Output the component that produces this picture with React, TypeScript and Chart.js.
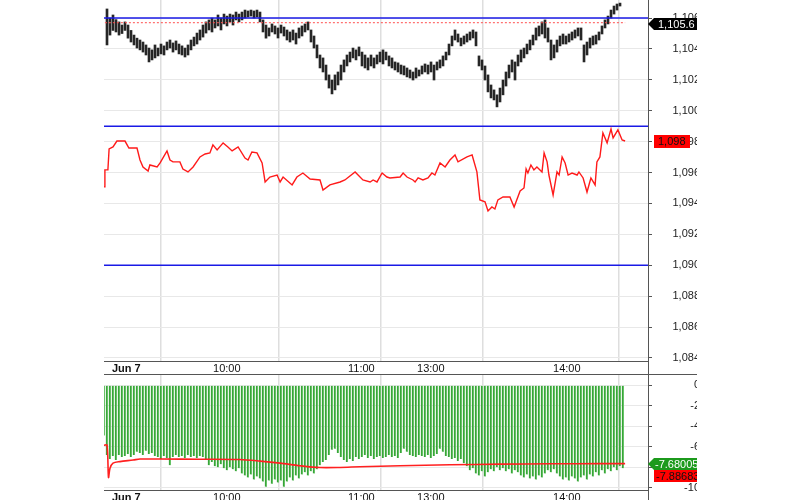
import React, { useEffect, useRef } from "react";
import { Chart, registerables } from "chart.js";

Chart.register(...registerables);

const FONT = '"Liberation Sans", Arial, Helvetica, sans-serif';

// ---- x axis (bar index units) ----
const xMin = 0;
const xMax = 181.33;
const tickIdx = [2, 35.67, 80.67, 103.67, 149];
const tickLabels = ["Jun 7", "10:00", "11:00", "13:00", "14:00"];

// ---- price panel ----
const priceMin = 1083.8;
const priceMax = 1107.17;
const priceTicks = [1084, 1086, 1088, 1090, 1092, 1094, 1096, 1098, 1100, 1102, 1104, 1106];
const levelLines = [1106, 1099, 1090];
const refLevel = 1105.7;
const refStart = 0.3;
const refEnd = 173.7;
const lastPrice = 1105.6;
const lastPriceLabel = "1,105.6";
const lastRed = 1098;
const lastRedLabel = "1,098";

const candleHigh = [
  1106.59, 1106.0, 1106.2, 1105.9, 1105.75, 1105.55, 1105.75, 1105.55,
  1105.2, 1104.9, 1104.7, 1104.58, 1104.45, 1104.26, 1104.06, 1103.94, 1104.26, 1104.06,
  1104.32, 1104.2, 1104.45, 1104.58, 1104.39, 1104.52, 1104.32, 1104.2, 1104.06, 1104.26,
  1104.58, 1104.77, 1105.03, 1105.23, 1105.55, 1105.75, 1105.88, 1106.0, 1105.88, 1106.2,
  1106.0, 1106.26, 1106.13, 1106.26, 1106.2, 1106.39, 1106.26, 1106.39, 1106.52, 1106.46,
  1106.52, 1106.46, 1106.52, 1106.39, 1105.88, 1105.55, 1105.36, 1105.62, 1105.49, 1105.36,
  1105.55, 1105.42, 1105.23, 1105.1, 1105.23, 1105.03, 1105.36, 1105.49, 1105.62, 1105.75,
  1105.23, 1104.84, 1104.26, 1103.61, 1103.42, 1102.96, 1102.32, 1101.99, 1102.32, 1102.51,
  1102.96, 1103.29, 1103.61, 1103.8, 1104.06, 1103.94, 1104.13, 1103.8, 1103.61, 1103.42,
  1103.61, 1103.42, 1103.61, 1103.8, 1103.94, 1103.8, 1103.55, 1103.42, 1103.16, 1103.1,
  1102.96, 1102.9, 1102.77, 1102.64, 1102.51, 1102.77, 1102.64, 1102.9, 1103.03, 1102.96,
  1103.16, 1102.96, 1103.16, 1103.29, 1103.55, 1103.8, 1104.32, 1104.84, 1105.23, 1104.97,
  1104.71, 1104.84, 1104.97, 1105.1, 1105.23, 1105.1, 1103.55, 1103.29, 1102.9, 1102.32,
  1101.67, 1101.35, 1101.03, 1101.47, 1101.99, 1102.51, 1102.96, 1103.29, 1103.16, 1103.61,
  1103.94, 1104.06, 1104.32, 1104.58, 1104.9, 1105.36, 1105.49, 1105.75, 1105.88, 1105.36,
  1104.58, 1104.26, 1104.58, 1104.84, 1104.97, 1104.84, 1104.97, 1105.1, 1105.23, 1105.36,
  1105.36, 1104.26, 1104.45, 1104.71, 1104.84, 1104.9, 1105.1, 1105.49, 1105.88, 1106.13,
  1106.52, 1106.78, 1106.91, 1106.97,
];

const candleLow = [
  1104.26, 1104.9, 1105.2, 1105.1, 1104.9, 1105.0, 1105.2, 1104.7,
  1104.45, 1104.26, 1104.06, 1103.94, 1103.8, 1103.61, 1103.16, 1103.29, 1103.42, 1103.55,
  1103.68, 1103.61, 1103.94, 1104.06, 1103.8, 1103.94, 1103.68, 1103.61, 1103.48, 1103.61,
  1103.94, 1104.2, 1104.32, 1104.58, 1104.77, 1105.03, 1105.23, 1105.1, 1105.36, 1105.49,
  1105.23, 1105.62, 1105.49, 1105.75, 1105.55, 1105.88, 1105.75, 1105.88, 1106.0, 1106.07,
  1106.13, 1106.0, 1106.07, 1105.75, 1105.1, 1104.7, 1104.84, 1105.1, 1104.97, 1104.71,
  1105.03, 1104.84, 1104.58, 1104.45, 1104.58, 1104.32, 1104.71, 1104.84, 1105.1, 1105.23,
  1104.45, 1104.06, 1103.42, 1102.77, 1102.51, 1101.99, 1101.47, 1101.09, 1101.35, 1101.67,
  1101.99, 1102.51, 1102.9, 1103.16, 1103.42, 1103.29, 1103.55, 1102.9, 1102.77, 1102.64,
  1102.9, 1102.77, 1103.03, 1103.16, 1103.03, 1103.29, 1102.9, 1102.77, 1102.64, 1102.51,
  1102.38, 1102.32, 1102.19, 1102.12, 1101.99, 1102.12, 1102.25, 1102.38, 1102.51, 1102.38,
  1102.51, 1101.99, 1102.64, 1102.77, 1102.9, 1103.29, 1103.61, 1104.2, 1104.58, 1104.45,
  1104.2, 1104.32, 1104.45, 1104.58, 1104.71, 1104.2, 1102.9, 1102.64, 1101.99, 1101.22,
  1100.83, 1100.7, 1100.25, 1100.57, 1101.03, 1101.6, 1102.12, 1102.51, 1101.99, 1102.9,
  1103.16, 1103.42, 1103.68, 1103.94, 1104.26, 1104.58, 1104.84, 1104.97, 1104.71, 1104.45,
  1103.29, 1103.42, 1103.8, 1104.2, 1104.32, 1104.32, 1104.45, 1104.58, 1104.71, 1104.84,
  1104.58, 1103.16, 1103.61, 1104.06, 1104.26, 1104.32, 1104.58, 1104.97, 1105.36, 1105.62,
  1106.0, 1106.26, 1106.52, 1106.78,
];

const redIdx = [
  0, 0.3, 1.3, 1.7, 3, 4.3, 7, 8.3, 11, 12, 13, 14.7, 15.3, 17.7, 18.7, 21, 22, 23, 25.3, 26.3,
  28, 29.7, 32, 33.7, 35.3, 36.3, 37.7, 39.7, 41.3, 42.7, 44.7, 47, 48, 49.3, 51, 52.7, 53.7, 55.3,
  57.7, 58.7, 59.7, 62.7, 64.3, 66.3, 68.7, 72, 73, 75.3, 78.7, 80.3, 83.7, 86.3, 88.7, 89.7, 91,
  92.7, 94.3, 95.3, 98.7, 99.7, 101, 103, 103.7, 104.7, 106.3, 108, 109.3, 110.3, 112, 113.7, 115.3,
  117, 118, 121, 122.7, 124.3, 125.3, 127, 128, 129.3, 130.3, 131.3, 133, 135.3, 136.7, 138.7, 140,
  140.7, 141.3, 142.3, 143.3, 144.3, 146, 146.7, 147.7, 148.3, 149.7, 151, 151.7, 152.7, 153.7,
  154.7, 156, 157.7, 158.3, 159.7, 161, 162.3, 163.7, 164.3, 165.3, 166.3, 167.7, 169, 169.7,
  171.3, 172.7, 173.7,
];
const redVal = [
  1095.07, 1096.17, 1096.17, 1097.53, 1097.66, 1098.04, 1098.04, 1097.59, 1097.59, 1096.81,
  1096.36, 1096.1, 1096.49, 1096.36, 1096.62, 1097.4, 1096.81, 1096.69, 1096.69, 1096.23,
  1096.04, 1096.36, 1097.01, 1097.2, 1097.27, 1097.79, 1097.46, 1097.92, 1097.66, 1097.4,
  1097.66, 1096.94, 1096.81, 1097.33, 1097.27, 1096.62, 1095.39, 1095.71, 1095.84, 1095.39,
  1095.71, 1095.2, 1095.71, 1095.97, 1095.58, 1095.52, 1094.87, 1095.2, 1095.39, 1095.52,
  1096.04, 1095.52, 1095.39, 1095.52, 1095.39, 1095.97, 1095.71, 1095.65, 1095.71, 1095.97,
  1095.71, 1095.52, 1095.39, 1095.65, 1095.52, 1095.65, 1095.97, 1095.84, 1096.62, 1096.36,
  1096.81, 1097.14, 1096.69, 1097.01, 1097.14, 1096.04, 1094.23, 1094.1, 1093.51, 1093.77,
  1093.64, 1094.23, 1094.42, 1094.42, 1093.77, 1094.81, 1095.0, 1096.23, 1095.97, 1096.49,
  1096.17, 1096.36, 1096.04, 1097.27, 1096.69, 1095.84, 1094.55, 1096.04, 1095.84, 1097.01,
  1096.62, 1095.84, 1095.97, 1095.84, 1096.04, 1095.65, 1094.74, 1095.65, 1095.2, 1096.69,
  1097.01, 1098.56, 1097.92, 1098.82, 1098.24, 1098.76, 1098.11, 1098.04,
];

// ---- oscillator panel ----
const oscMin = -10.22;
const oscMax = 1.0;
const oscTicks = [0, -2, -4, -6, -8, -10];
const greenVals = [
  -4.9, -6.8, -7.2, -6.9, -7.3, -6.8, -7.0, -6.9, -6.7, -7.0,
  -6.8, -6.5, -6.6, -6.8, -6.4, -6.7, -6.6, -6.9, -7.0, -7.2,
  -6.9, -7.1, -7.8, -7.0, -6.8, -7.0, -6.9, -7.1, -6.8, -7.0,
  -6.9, -7.1, -6.9, -7.0, -7.2, -7.8, -7.5, -7.9, -8.0, -7.7,
  -8.1, -8.3, -8.0, -8.2, -8.4, -8.1, -8.6, -8.8, -9.0, -8.7,
  -9.2, -8.9, -9.1, -9.4, -9.9, -9.3, -9.6, -9.2, -9.5, -9.3,
  -9.9, -9.4, -9.0, -9.3, -8.8, -9.1, -8.7, -8.5, -8.8, -8.4,
  -8.6, -8.2, -7.8, -7.5, -7.3, -6.8, -6.3, -6.2, -6.6, -7.0,
  -7.3, -7.5, -7.2, -7.4, -7.0, -7.2, -7.0, -6.8, -7.1, -6.9,
  -7.2, -7.0, -6.9, -7.1, -7.0, -6.8, -7.0, -6.9, -7.1, -6.6,
  -6.2, -6.5, -6.8, -6.9, -7.0, -6.8, -6.9, -7.0, -6.8, -7.1,
  -6.9, -6.7, -6.2, -6.5, -6.9, -7.0, -7.2, -7.1, -7.4, -7.2,
  -7.6, -7.9, -8.3, -8.1, -8.6, -8.8, -8.4, -8.9, -8.5, -8.2,
  -8.4, -8.0, -8.3, -8.1, -8.4, -8.2, -8.6, -8.3, -8.5, -8.8,
  -9.0, -8.7, -9.1, -8.9, -9.2, -8.8, -9.0, -8.6, -8.3, -8.5,
  -8.2, -8.6, -8.9, -9.2, -9.0, -9.3, -8.9, -9.1, -9.4, -9.0,
  -8.8, -9.2, -8.7, -8.9, -8.5, -8.8, -8.3, -8.6, -8.2, -8.4,
  -8.0, -8.3, -7.9, -8.1,
];
const oscRedIdx = [0, 1, 1.5, 2, 3, 5.3, 9.7, 12, 18.7, 32, 45.3, 52, 58.7, 65.3, 72, 78.7, 85.3, 98.7, 115.3, 132, 148.7, 165.3, 173.7];
const oscRedVal = [-5.85, -5.85, -9.0, -8.1, -7.6, -7.45, -7.3, -7.2, -7.2, -7.22, -7.25, -7.4, -7.6, -7.85, -8.03, -8.02, -7.95, -7.85, -7.76, -7.7, -7.66, -7.65, -7.65];
const oscGreenLast = -7.68005;
const oscGreenLabel = "-7.68005";
const oscRedLabel = "-7.88683";

const PLOT_LEFT = 104;
const W = 700;
const AXIS_W = W - 648;

function fmtThousands(v: number): string {
  const s = String(Math.round(v));
  return s.replace(/\B(?=(\d{3})+(?!\d))/g, ",");
}

function xScale(height: number) {
  return {
    type: "linear",
    min: xMin,
    max: xMax,
    offset: false,
    afterBuildTicks: (s: any) => {
      s.ticks = tickIdx.map((v) => ({ value: v }));
    },
    afterFit: (s: any) => {
      s.height = height;
      s.paddingLeft = 0;
      s.paddingRight = 0;
    },
    ticks: {
      autoSkip: false,
      maxRotation: 0,
      minRotation: 0,
      align: "start",
      labelOffset: 2,
      padding: 1,
      color: "#111",
      callback: (_v: any, i: number) => tickLabels[i],
      font: (c: any) => ({ family: FONT, size: 11, weight: c.index === 0 ? "bold" : "normal" }),
    },
    grid: { color: "#dedede", lineWidth: 1.5, drawTicks: false },
    border: { display: true, color: "#555", width: 1 },
  };
}

function yScale(min: number, max: number, ticks: number[], fmt: (v: number) => string) {
  return {
    type: "linear",
    position: "right",
    min,
    max,
    afterBuildTicks: (s: any) => {
      s.ticks = ticks.map((v) => ({ value: v }));
    },
    afterFit: (s: any) => {
      s.width = AXIS_W;
      s.paddingTop = 0;
      s.paddingBottom = 0;
    },
    ticks: {
      color: "#222",
      padding: 0,
      crossAlign: "far",
      font: { family: FONT, size: 11 },
      callback: (v: any) => fmt(Number(v)),
    },
    grid: { color: "#e8e8e8", tickColor: "#555", tickLength: 4, drawTicks: true },
    border: { display: true, color: "#555", width: 1 },
  };
}

function drawTag(ctx: CanvasRenderingContext2D, x0: number, yc: number, h: number, w: number, arrow: boolean, fill: string, color: string, text: string, textX: number) {
  ctx.save();
  ctx.fillStyle = fill;
  ctx.beginPath();
  const top = Math.round(yc - h / 2);
  const bot = top + h;
  if (arrow) {
    ctx.moveTo(x0, (top + bot) / 2);
    ctx.lineTo(x0 + 6, top);
    ctx.lineTo(x0 + 6 + w, top);
    ctx.lineTo(x0 + 6 + w, bot);
    ctx.lineTo(x0 + 6, bot);
    ctx.closePath();
  } else {
    ctx.rect(x0 + 6, top, w, h);
  }
  ctx.fill();
  ctx.fillStyle = color;
  ctx.font = `11px ${FONT}`;
  ctx.textBaseline = "middle";
  ctx.textAlign = "left";
  ctx.fillText(text, textX, (top + bot) / 2 + 0.5);
  ctx.restore();
}

const topExtras = {
  id: "topExtras",
  afterDraw(chart: any) {
    const ctx = chart.ctx as CanvasRenderingContext2D;
    const ca = chart.chartArea;
    const y = chart.scales.y;
    ctx.save();
    ctx.strokeStyle = "#555";
    ctx.lineWidth = 1;
    ctx.beginPath();
    ctx.moveTo(Math.round(ca.right) + 0.5, ca.bottom);
    ctx.lineTo(Math.round(ca.right) + 0.5, chart.height);
    ctx.stroke();
    ctx.restore();
    drawTag(ctx, ca.right, y.getPixelForValue(lastPrice), 12, 80, true, "#000", "#fff", lastPriceLabel, ca.right + 10);
    drawTag(ctx, ca.right, y.getPixelForValue(lastRed), 13, 36, false, "#ff0000", "#111", lastRedLabel, ca.right + 10);
  },
};

const bottomExtras = {
  id: "bottomExtras",
  afterDraw(chart: any) {
    const ctx = chart.ctx as CanvasRenderingContext2D;
    const ca = chart.chartArea;
    const y = chart.scales.y;
    ctx.save();
    ctx.strokeStyle = "#555";
    ctx.lineWidth = 1;
    ctx.beginPath();
    ctx.moveTo(ca.left, Math.round(ca.top) - 0.5);
    ctx.lineTo(chart.width, Math.round(ca.top) - 0.5);
    ctx.moveTo(Math.round(ca.right) + 0.5, 0);
    ctx.lineTo(Math.round(ca.right) + 0.5, chart.height);
    ctx.stroke();
    ctx.restore();
    const yg = y.getPixelForValue(oscGreenLast);
    drawTag(ctx, ca.right, yg, 12, 80, true, "#1c9a1c", "#fff", oscGreenLabel, ca.right + 7);
    drawTag(ctx, ca.right, yg + 12.5, 12, 80, false, "#ff0000", "#111", oscRedLabel, ca.right + 8);
  },
};

function TopChart() {
  const ref = useRef<HTMLCanvasElement | null>(null);
  useEffect(() => {
    if (!ref.current) return;
    const datasets: any[] = [
      {
        type: "line",
        data: redIdx.map((x, k) => ({ x, y: redVal[k] })),
        borderColor: "#ff1a1a",
        borderWidth: 1.4,
        pointRadius: 0,
        tension: 0,
        order: 0,
      },
      ...levelLines.map((v) => ({
        type: "line",
        data: [
          { x: xMin, y: v },
          { x: xMax, y: v },
        ],
        borderColor: "#1a1ae6",
        borderWidth: 1.6,
        pointRadius: 0,
        order: 1,
      })),
      {
        type: "line",
        data: [
          { x: refStart, y: refLevel },
          { x: refEnd, y: refLevel },
        ],
        borderColor: "#ff4d4d",
        borderWidth: 1,
        borderDash: [2, 2],
        pointRadius: 0,
        order: 1,
      },
      {
        type: "bar",
        data: candleHigh.map((h, k) => ({ x: k + 1, y: [candleLow[k], h] })),
        backgroundColor: "#262626",
        borderWidth: 0,
        barThickness: 2,
        order: 2,
      },
    ];
    const chart = new Chart(ref.current, {
      type: "bar",
      data: { datasets },
      options: {
        responsive: false,
        animation: false,
        layout: { padding: { left: PLOT_LEFT, top: 0, right: 0, bottom: 0 } },
        plugins: { legend: { display: false }, tooltip: { enabled: false } },
        scales: {
          x: xScale(13) as any,
          y: yScale(priceMin, priceMax, priceTicks, fmtThousands) as any,
        },
      },
      plugins: [topExtras],
    } as any);
    return () => chart.destroy();
  }, []);
  return <canvas ref={ref} width={W} height={374} style={{ position: "absolute", left: 0, top: 0, width: W, height: 374 }} />;
}

function BottomChart() {
  const ref = useRef<HTMLCanvasElement | null>(null);
  useEffect(() => {
    if (!ref.current) return;
    const datasets: any[] = [
      {
        type: "line",
        data: oscRedIdx.map((x, k) => ({ x, y: oscRedVal[k] })),
        borderColor: "#ff2020",
        borderWidth: 1.6,
        pointRadius: 0,
        tension: 0.3,
        order: 0,
      },
      {
        type: "bar",
        data: greenVals.map((v, k) => ({ x: k, y: v })),
        backgroundColor: "#66c266",
        borderColor: "#249624",
        borderWidth: { left: 1, right: 0, top: 0, bottom: 0 },
        borderSkipped: false,
        barThickness: 2,
        order: 1,
      },
    ];
    const chart = new Chart(ref.current, {
      type: "bar",
      data: { datasets },
      options: {
        responsive: false,
        animation: false,
        layout: { padding: { left: PLOT_LEFT, top: 1, right: 0, bottom: 0 } },
        plugins: { legend: { display: false }, tooltip: { enabled: false } },
        scales: {
          x: xScale(10) as any,
          y: yScale(oscMin, oscMax, oscTicks, (v) => String(v)) as any,
        },
      },
      plugins: [bottomExtras],
    } as any);
    return () => chart.destroy();
  }, []);
  return <canvas ref={ref} width={W} height={126} style={{ position: "absolute", left: 0, top: 374, width: W, height: 126 }} />;
}

export default function App() {
  return (
    <div style={{ position: "absolute", left: 0, top: 0, width: 697, height: 500, overflow: "hidden", background: "#fff" }}>
      <TopChart />
      <BottomChart />
    </div>
  );
}
